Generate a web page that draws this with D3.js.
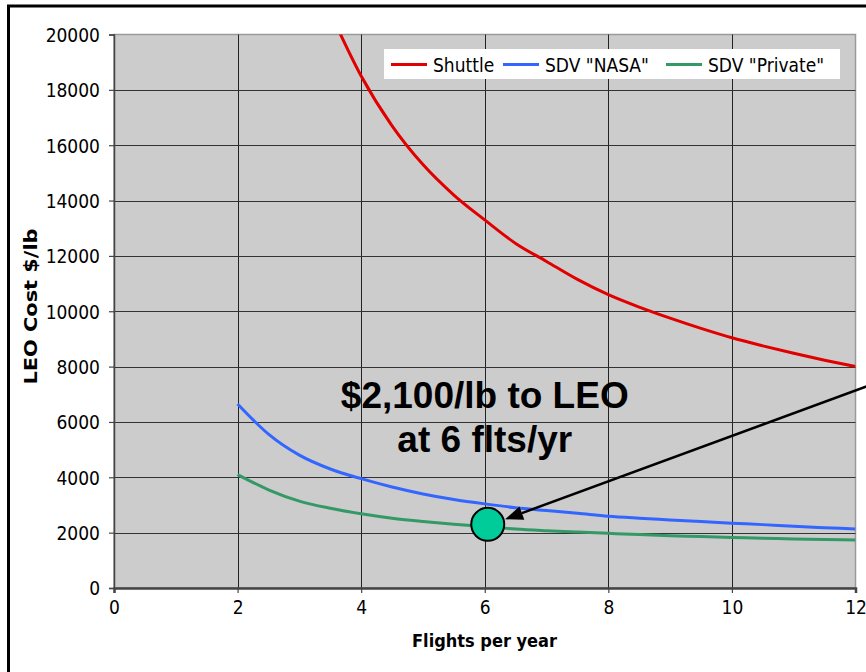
<!DOCTYPE html>
<html><head><meta charset="utf-8">
<script src="https://cdn.jsdelivr.net/npm/d3@7"></script>
<style>body{margin:0;background:#fff}svg{display:block}</style>
</head><body>
<svg id="c" width="866" height="672"></svg>
<script>
// ---- data ----
const shuttleFlights = [3.5,4,4.5,5,5.5,6,6.5,7,7.5,8,8.5,9,9.5,10,10.5,11,11.5,12];
const shuttleCost = [20800,18500,16700,15300,14200,13300,12450,11800,11150,10600,10150,9750,9380,9040,8750,8480,8230,8000];
const sdvFlights = [2,2.5,3,3.5,4,4.5,5,5.5,6,6.5,7,7.5,8,8.5,9,9.5,10,10.5,11,11.5,12];
const nasaCost = [6650,5560,4800,4300,3950,3650,3400,3200,3040,2900,2800,2700,2590,2520,2460,2400,2340,2290,2230,2180,2130];
const privateCost = [4100,3550,3140,2880,2680,2520,2400,2300,2220,2130,2070,2020,1975,1930,1890,1860,1825,1800,1770,1750,1735];
const seriesNames = ['Shuttle','SDV "NASA"','SDV "Private"'];
const seriesColors = ['#e00000','#3366ff','#339966'];
const xTicks = [0,2,4,6,8,10,12];
const yTicks = [0,2000,4000,6000,8000,10000,12000,14000,16000,18000,20000];
const highlightPoint = [6, 2300];
const annotationLines = ['$2,100/lb to LEO','at 6 flts/yr'];
const xTitle = 'Flights per year';
const yTitle = 'LEO Cost $/lb';

// ---- layout ----
const svg = d3.select('#c');
const FONT = 'Tahoma, "DejaVu Sans Condensed", "DejaVu Sans", sans-serif';
const x = d3.scaleLinear().domain([0,12]).range([114,855.5]);
const y = d3.scaleLinear().domain([0,20000]).range([588,34.5]);

// outer frame
svg.append('rect').attr('x',8.5).attr('y',6).attr('width',950).attr('height',760)
  .attr('fill','#fff').attr('stroke','#000').attr('stroke-width',3);

// plot background
svg.append('rect').attr('x',x(0)).attr('y',y(20000)).attr('width',x(12)-x(0)).attr('height',y(0)-y(20000))
  .attr('fill','#cccccc').attr('stroke','#9a9a9a').attr('stroke-width',1.5);

// grid
const grid = svg.append('g');
grid.selectAll('line.v').data(xTicks.filter(d=>d>0&&d<12)).join('line')
  .attr('x1',d=>Math.round(x(d))+0.5).attr('x2',d=>Math.round(x(d))+0.5)
  .attr('y1',y(20000)).attr('y2',y(0)).attr('stroke','#222').attr('stroke-width',1);
grid.selectAll('line.h').data(yTicks.filter(d=>d>0&&d<20000)).join('line')
  .attr('y1',d=>Math.round(y(d))+0.5).attr('y2',d=>Math.round(y(d))+0.5)
  .attr('x1',x(0)).attr('x2',x(12)).attr('stroke','#333').attr('stroke-width',1);

// axes
const yAxis = svg.append('g').attr('transform',`translate(${x(0)},0)`)
  .call(d3.axisLeft(y).tickValues(yTicks).tickSize(5).tickPadding(9).tickFormat(d3.format('d')));
yAxis.select('.domain').attr('stroke','#444').attr('stroke-width',1.5);
yAxis.selectAll('.tick line').attr('stroke','#444').attr('stroke-width',1.2);
yAxis.selectAll('text').attr('font-family',FONT).attr('font-size',19).attr('fill','#000').attr('dy','0.36em');

const xAxis = svg.append('g').attr('transform',`translate(0,${y(0)})`)
  .call(d3.axisBottom(x).tickValues(xTicks).tickSize(5).tickPadding(8));
xAxis.select('.domain').attr('stroke','#444').attr('stroke-width',2.5);
xAxis.selectAll('.tick line').attr('stroke','#444').attr('stroke-width',1.2);
xAxis.selectAll('text').attr('font-family',FONT).attr('font-size',19).attr('fill','#000')
  .attr('y',25.5).attr('dy',0);

// titles
svg.append('text').attr('x',484.5).attr('y',647).attr('text-anchor','middle')
  .attr('font-family',FONT).attr('font-weight','bold').attr('font-size',18).text(xTitle);
svg.append('text').attr('transform','translate(36.5,306.5) rotate(-90)').attr('text-anchor','middle')
  .attr('font-family','"DejaVu Sans", sans-serif').attr('font-weight','bold').attr('font-size',17)
  .attr('textLength',156).attr('lengthAdjust','spacingAndGlyphs').text(yTitle);

// series
const clip = svg.append('clipPath').attr('id','plotclip').append('rect')
  .attr('x',x(0)).attr('y',y(20000)).attr('width',x(12)-x(0)).attr('height',y(0)-y(20000));
const line = d3.line().x(d=>x(d[0])).y(d=>y(d[1])).curve(d3.curveMonotoneX);
const series = [
  d3.zip(shuttleFlights, shuttleCost),
  d3.zip(sdvFlights, nasaCost),
  d3.zip(sdvFlights, privateCost)
];
svg.append('g').attr('clip-path','url(#plotclip)').selectAll('path').data(series).join('path')
  .attr('d',line).attr('fill','none').attr('stroke',(d,i)=>seriesColors[i]).attr('stroke-width',3)
  .attr('stroke-linejoin','round');

// legend
const lg = svg.append('g');
lg.append('rect').attr('x',384).attr('y',49).attr('width',456).attr('height',30).attr('fill','#fff');
const legendX = [391, 503, 666];
seriesNames.forEach((n,i)=>{
  lg.append('line').attr('x1',legendX[i]).attr('x2',legendX[i]+36).attr('y1',64.5).attr('y2',64.5)
    .attr('stroke',seriesColors[i]).attr('stroke-width',3);
  lg.append('text').attr('x',legendX[i]+42).attr('y',72.3).attr('font-family',FONT).attr('font-size',19)
    .attr('fill','#000').text(n);
});

// annotation text
svg.selectAll('text.ann').data(annotationLines).join('text').attr('class','ann')
  .attr('x',x(6)).attr('y',(d,i)=>[407.7,451.7][i]).attr('text-anchor','middle')
  .attr('font-family','"Liberation Sans", Arial, sans-serif').attr('font-weight','bold')
  .attr('font-size',37).attr('fill','#000').text(d=>d);

// highlight circle
const cx = x(highlightPoint[0]) + 3, cy = y(highlightPoint[1]);
svg.append('circle').attr('cx',cx).attr('cy',cy).attr('r',16.5)
  .attr('fill','#00cc99').attr('stroke','#000').attr('stroke-width',2);

// arrow
const tip = [505, 519.3];
const start = [900, 374.2];
const ang = Math.atan2(start[1]-tip[1], start[0]-tip[0]);
const L = 18, W = 7;
const base = [tip[0]+L*Math.cos(ang), tip[1]+L*Math.sin(ang)];
svg.append('line').attr('x1',start[0]).attr('y1',start[1]).attr('x2',base[0]).attr('y2',base[1])
  .attr('stroke','#000').attr('stroke-width',2.5);
svg.append('path').attr('d',`M${tip[0]},${tip[1]}L${base[0]-W*Math.sin(ang)},${base[1]+W*Math.cos(ang)}L${base[0]+W*Math.sin(ang)},${base[1]-W*Math.cos(ang)}Z`)
  .attr('fill','#000');
</script>
</body></html>
